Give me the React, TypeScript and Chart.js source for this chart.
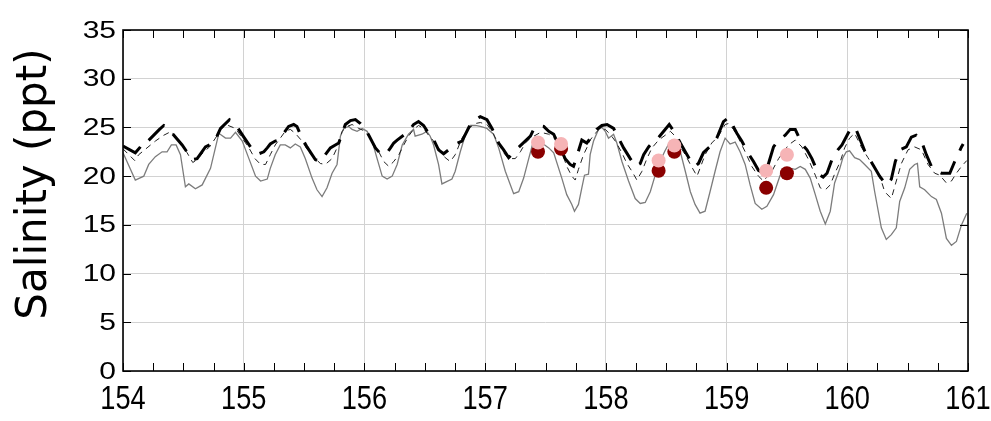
import React, { useEffect, useRef } from "react";
import { Chart, registerables } from "chart.js";

Chart.register(...registerables);

// ---- data (day of year, salinity ppt) ----
const thickT = [154.000,154.102,154.144,154.185,154.207,154.302,154.338,154.379,154.407,154.490,154.573,154.614,154.683,154.717,154.752,154.808,154.882,154.932,155.001,155.084,155.126,155.167,155.195,155.220,155.261,155.289,155.372,155.414,155.441,155.483,155.524,155.593,155.635,155.676,155.718,155.759,155.787,155.842,155.884,155.925,155.967,156.008,156.036,156.091,156.133,156.174,156.216,156.243,156.271,156.368,156.407,156.448,156.490,156.531,156.559,156.614,156.656,156.697,156.739,156.808,156.877,156.918,156.960,157.015,157.057,157.112,157.153,157.195,157.236,157.272,157.375,157.402,157.444,157.485,157.527,157.568,157.663,157.704,157.732,157.759,157.801,157.842,157.884,157.925,157.967,158.010,158.064,158.105,158.147,158.202,158.245,158.285,158.313,158.354,158.396,158.432,158.525,158.575,158.617,158.658,158.700,158.740,158.767,158.808,158.850,158.891,158.919,158.974,159.016,159.043,159.085,159.126,159.182,159.223,159.264,159.320,159.355,159.389,159.431,159.486,159.527,159.569,159.624,159.666,159.707,159.762,159.800,159.832,159.873,159.922,159.956,160.028,160.066,160.102,160.144,160.221,160.268,160.323,160.365,160.398,160.434,160.489,160.531,160.570,160.614,160.655,160.697,160.724,160.780,160.849,160.890,160.946,160.960];
const thickV = [23.1,22.4,23.0,23.7,23.6,24.8,25.2,24.9,24.4,23.2,21.7,21.8,23.0,23.2,23.4,24.9,25.8,25.3,24.0,22.5,22.3,22.5,22.9,23.3,23.6,23.7,25.1,25.3,25.1,23.9,23.0,21.7,21.5,22.2,22.9,23.2,23.4,25.3,25.7,25.8,25.4,24.8,24.2,22.9,22.3,22.2,22.9,23.4,23.7,24.6,25.3,25.6,25.2,24.4,24.1,22.7,22.3,22.7,23.2,23.6,25.3,25.8,26.1,25.8,24.9,23.4,22.7,21.9,22.4,22.9,24.1,24.8,25.2,25.1,24.6,24.3,21.8,21.2,21.0,22.0,23.7,23.4,24.1,24.8,25.2,25.3,24.9,23.9,22.9,21.8,21.0,21.3,22.2,23.0,23.6,23.9,25.3,24.4,23.4,22.5,21.6,21.0,21.3,22.4,22.9,23.3,23.9,25.6,26.0,25.4,24.4,23.6,22.3,21.5,20.6,20.2,21.6,23.0,23.7,24.2,24.8,24.8,23.3,22.7,21.8,20.2,19.9,20.3,21.7,22.7,23.2,24.9,25.0,23.9,22.6,21.0,20.0,19.1,19.7,21.5,22.7,23.0,24.0,24.2,23.6,22.2,21.0,20.6,20.3,20.3,21.5,23.0,23.3];

const thinT = [154.000,154.097,154.130,154.199,154.268,154.338,154.401,154.462,154.531,154.578,154.614,154.669,154.717,154.766,154.816,154.871,154.932,154.988,155.043,155.093,155.140,155.181,155.220,155.261,155.303,155.344,155.386,155.427,155.483,155.538,155.593,155.635,155.676,155.732,155.773,155.815,155.856,155.898,155.953,156.008,156.064,156.119,156.160,156.202,156.243,156.285,156.326,156.365,156.407,156.448,156.490,156.531,156.573,156.614,156.669,156.711,156.752,156.808,156.863,156.918,156.960,157.015,157.057,157.098,157.153,157.195,157.250,157.292,157.333,157.375,157.460,157.527,157.552,157.593,157.635,157.676,157.718,157.746,157.773,157.815,157.842,157.870,157.912,157.953,157.995,158.036,158.078,158.133,158.174,158.216,158.257,158.299,158.340,158.382,158.437,158.492,158.534,158.575,158.617,158.658,158.700,158.755,158.780,158.822,158.877,158.933,158.988,159.016,159.057,159.099,159.154,159.209,159.264,159.306,159.375,159.431,159.472,159.513,159.569,159.624,159.679,159.735,159.776,159.818,159.859,159.901,159.942,159.978,160.019,160.061,160.116,160.171,160.227,160.282,160.310,160.365,160.406,160.448,160.503,160.558,160.614,160.669,160.724,160.766,160.821,160.863,160.904,160.946,160.990];
const thinV = [22.8,21.6,22.2,22.9,23.6,24.2,24.6,23.6,22.4,21.4,21.7,22.5,23.0,23.9,24.9,25.2,24.9,23.9,22.9,21.8,21.2,21.2,22.2,23.2,23.9,24.6,24.8,24.4,23.6,22.5,21.8,21.3,21.2,21.8,22.9,24.6,25.1,25.3,24.9,24.6,23.6,22.5,21.5,21.0,21.5,22.2,23.2,24.1,24.8,25.2,24.9,24.2,23.6,22.9,21.9,21.5,22.2,23.9,24.9,25.4,25.5,25.3,24.6,23.6,22.4,21.8,21.8,22.5,23.4,23.9,24.5,24.3,24.1,23.6,22.5,21.0,20.0,19.6,20.7,22.2,22.9,23.7,24.4,24.9,24.8,24.3,23.6,22.4,21.3,20.5,19.6,20.5,21.8,22.9,23.7,24.2,24.6,24.1,23.0,22.2,21.2,20.0,20.8,22.2,23.4,24.1,25.3,25.4,24.8,23.9,22.5,21.0,20.0,19.5,20.5,21.8,22.5,23.2,23.7,23.0,21.7,20.1,18.8,18.6,19.1,20.4,21.5,22.9,23.9,24.4,23.0,21.9,20.8,19.5,18.4,17.7,19.5,21.3,22.7,23.0,22.7,21.2,20.3,20.1,19.3,19.5,20.3,21.0,21.6];

const grayT = [154.000,154.102,154.172,154.213,154.268,154.324,154.365,154.401,154.440,154.476,154.517,154.545,154.600,154.656,154.725,154.794,154.849,154.891,154.932,154.988,155.043,155.098,155.140,155.195,155.220,155.261,155.303,155.344,155.386,155.427,155.469,155.510,155.566,155.607,155.649,155.690,155.732,155.773,155.801,155.828,155.870,155.898,155.939,155.981,156.022,156.064,156.105,156.147,156.188,156.230,156.271,156.313,156.365,156.407,156.420,156.476,156.517,156.545,156.573,156.614,156.642,156.725,156.752,156.794,156.835,156.877,156.918,156.960,157.015,157.070,157.112,157.167,157.236,157.278,157.319,157.361,157.402,157.471,157.527,157.568,157.635,157.676,157.718,157.740,157.773,157.801,157.823,157.856,157.870,157.898,157.939,157.967,157.995,158.022,158.064,158.091,158.133,158.188,158.243,158.285,158.326,158.368,158.409,158.437,158.490,158.534,158.575,158.617,158.658,158.700,158.739,158.780,158.822,158.863,158.905,158.946,158.988,159.029,159.071,159.112,159.154,159.195,159.237,159.292,159.334,159.389,159.444,159.486,159.527,159.569,159.610,159.652,159.693,159.735,159.776,159.818,159.859,159.895,159.936,159.964,159.992,160.019,160.061,160.102,160.144,160.199,160.227,160.282,160.323,160.365,160.406,160.434,160.476,160.517,160.558,160.581,160.600,160.641,160.697,160.738,160.780,160.821,160.863,160.904,160.946,160.990];
const grayV = [22.4,19.6,20.0,21.2,22.0,22.5,22.5,23.2,23.2,22.2,18.9,19.2,18.7,19.1,20.8,24.4,23.9,23.9,24.5,23.6,21.8,20.0,19.5,19.7,20.8,22.2,23.2,23.2,22.9,23.3,23.0,21.8,19.8,18.6,17.9,18.8,20.3,21.2,24.1,24.9,25.1,24.8,24.6,24.9,24.6,23.6,21.8,20.0,19.7,20.0,21.2,23.2,24.3,24.8,24.1,24.3,24.6,24.1,23.2,21.2,19.2,19.7,20.5,22.5,24.2,25.2,25.2,25.1,24.9,24.3,22.9,20.5,18.2,18.4,19.8,21.8,23.7,23.4,22.9,22.4,19.8,18.1,17.1,16.4,17.1,18.8,20.1,20.2,22.2,23.6,24.8,25.0,24.6,23.9,24.3,23.4,21.5,19.5,17.7,17.2,17.3,18.4,20.1,21.2,22.6,23.6,23.7,22.5,20.5,18.4,17.1,16.2,16.4,18.4,20.5,22.5,23.9,23.3,23.5,22.5,21.2,19.1,17.2,16.6,16.9,18.1,20.1,20.7,20.8,20.7,21.0,20.7,19.8,18.1,16.4,15.1,16.4,19.3,20.7,21.9,22.5,22.6,21.9,21.7,21.2,20.5,18.4,14.7,13.5,14.0,14.7,17.4,18.8,20.7,21.2,21.3,18.9,18.6,17.9,17.6,16.2,13.6,12.9,13.3,15.0,16.2];

const sampleT = [157.438, 157.629, 158.437, 158.567, 159.328, 159.500];
const sampleDarkV = [22.5, 22.8, 20.55, 22.5, 18.8, 20.3];
const samplePinkV = [23.45, 23.3, 21.6, 23.15, 20.55, 22.2];

const xTickLabels = ["154", "155", "156", "157", "158", "159", "160", "161"];
const yTickLabels = ["0", "5", "10", "15", "20", "25", "30", "35"];
const yTitle = "Salinity (ppt)";

const X_MIN = 154, X_MAX = 161, Y_MIN = 0, Y_MAX = 35;

function pts(t: number[], v: number[]) {
  return t.map((x, i) => ({ x, y: v[i] }));
}

const framePlugin = {
  id: "frameTicks",
  afterDraw(chart: any) {
    const { ctx, chartArea: a, scales } = chart;
    const xs = scales.x, ys = scales.y;
    ctx.save();
    ctx.strokeStyle = "#000";
    ctx.lineWidth = 1;
    const tl = 8;
    ctx.beginPath();
    for (let q = X_MIN * 4; q <= X_MAX * 4; q++) {
      const px = Math.round(xs.getPixelForValue(q / 4)) + 0.5;
      ctx.moveTo(px, a.bottom);
      ctx.lineTo(px, a.bottom - tl);
      ctx.moveTo(px, a.top);
      ctx.lineTo(px, a.top + tl);
    }
    for (let v = Y_MIN; v <= Y_MAX; v += 5) {
      const py = Math.round(ys.getPixelForValue(v)) + 0.5;
      ctx.moveTo(a.left, py);
      ctx.lineTo(a.left + tl, py);
      ctx.moveTo(a.right, py);
      ctx.lineTo(a.right - tl, py);
    }
    ctx.stroke();
    ctx.lineWidth = 1.6;
    ctx.strokeRect(a.left, a.top, a.right - a.left, a.bottom - a.top);

    ctx.fillStyle = "#000";
    // x tick labels (narrow)
    ctx.font = '34px "Liberation Sans", Arial, sans-serif';
    ctx.textAlign = "center";
    ctx.textBaseline = "alphabetic";
    xTickLabels.forEach((l) => {
      const px = xs.getPixelForValue(Number(l));
      ctx.save();
      ctx.translate(px, 409);
      ctx.scale(0.8, 1);
      ctx.fillText(l, 0, 0);
      ctx.restore();
    });
    // y tick labels (wide)
    ctx.font = '24px "Liberation Sans", Arial, sans-serif';
    ctx.textAlign = "right";
    ctx.textBaseline = "middle";
    yTickLabels.forEach((l) => {
      const py = ys.getPixelForValue(Number(l));
      ctx.save();
      ctx.translate(116, py + 1);
      ctx.scale(1.25, 1);
      ctx.fillText(l, 0, 0);
      ctx.restore();
    });
    // y axis title
    ctx.font = '42px "DejaVu Sans", "Liberation Sans", Arial, sans-serif';
    ctx.textAlign = "center";
    ctx.textBaseline = "middle";
    ctx.translate(35, 184);
    ctx.rotate(-Math.PI / 2);
    ctx.fillText(yTitle, 0, 0);
    ctx.restore();
  },
};

export default function App() {
  const ref = useRef<HTMLCanvasElement | null>(null);
  useEffect(() => {
    if (!ref.current) return;
    const chart = new Chart(ref.current, {
      type: "line",
      data: {
        datasets: [
          {
            label: "pink",
            data: pts(sampleT, samplePinkV),
            showLine: false,
            pointRadius: 7,
            pointBackgroundColor: "#f6b4b6",
            pointBorderWidth: 0,
            order: 0,
          },
          {
            label: "dark",
            data: pts(sampleT, sampleDarkV),
            showLine: false,
            pointRadius: 7,
            pointBackgroundColor: "#8a0000",
            pointBorderWidth: 0,
            order: 1,
          },
          {
            label: "thick",
            data: pts(thickT, thickV),
            borderColor: "#000",
            borderWidth: 3,
            borderDash: [22, 12],
            pointRadius: 0,
            tension: 0,
            order: 2,
          },
          {
            label: "thin",
            data: pts(thinT, thinV),
            borderColor: "#222",
            borderWidth: 1,
            borderDash: [6, 5],
            pointRadius: 0,
            tension: 0,
            order: 3,
          },
          {
            label: "gray",
            data: pts(grayT, grayV),
            borderColor: "#7c7c7c",
            borderWidth: 1.3,
            pointRadius: 0,
            tension: 0,
            order: 4,
          },
        ],
      },
      options: {
        animation: false,
        responsive: false,
        devicePixelRatio: 1,
        layout: { padding: { left: 0, top: 30, right: 23, bottom: 0 } },
        plugins: { legend: { display: false }, tooltip: { enabled: false }, title: { display: false } },
        scales: {
          x: {
            type: "linear",
            min: X_MIN,
            max: X_MAX,
            afterFit: (s: any) => { s.height = 50; s.paddingLeft = 0; s.paddingRight = 0; },
            ticks: { display: false, stepSize: 1 },
            grid: { color: "#d2d2d2", lineWidth: 1, drawTicks: false },
            border: { display: false },
          },
          y: {
            type: "linear",
            min: Y_MIN,
            max: Y_MAX,
            afterFit: (s: any) => { s.width = 123; s.paddingTop = 0; s.paddingBottom = 0; },
            ticks: { display: false, stepSize: 5 },
            grid: { color: "#d2d2d2", lineWidth: 1, drawTicks: false },
            border: { display: false },
          },
        },
      },
      plugins: [framePlugin],
    });
    return () => chart.destroy();
  }, []);
  return (
    <div style={{ position: "absolute", left: 0, top: 0, width: 991, height: 421, background: "#fff" }}>
      <canvas ref={ref} width={991} height={421} style={{ display: "block" }} />
    </div>
  );
}
